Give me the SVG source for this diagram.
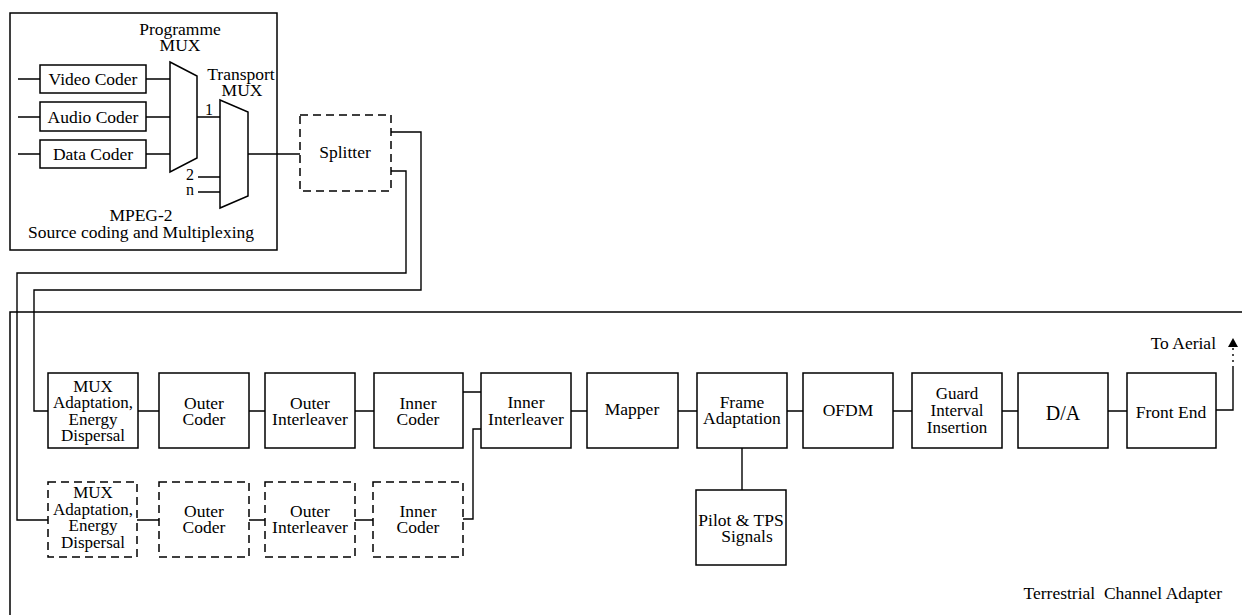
<svg xmlns="http://www.w3.org/2000/svg" width="1242" height="615" viewBox="0 0 1242 615">
<style>
text{font-family:"Liberation Serif","DejaVu Serif",serif;font-size:17.5px;fill:#000;text-anchor:middle}
.box{fill:#fff;stroke:#000;stroke-width:1.5}
.dash{fill:#fff;stroke:#000;stroke-width:1.5;stroke-dasharray:8 5}
.ln{fill:none;stroke:#000;stroke-width:1.4}
.mux{fill:#fff;stroke:#000;stroke-width:1.5}
.sm{font-size:16px}
.tight{font-size:17px}
</style>
<rect width="1242" height="615" fill="#fff"/>

<g id="connectors">
<path class="ln" d="M18,79H40M146,79H170"/>
<path class="ln" d="M18,117H40M146,117H170"/>
<path class="ln" d="M18,154H40M146,154H170"/>
<path class="ln" d="M197,117H220M198,177H220M198,192H220"/>
<path class="ln" d="M248,154H300"/>
<path class="ln" d="M391,132H421V290H34V411H48"/>
<path class="ln" d="M391,171H406V273H17V520H48"/>
<path class="ln" d="M138,411H159M249,411H265M355,411H374M463,392H481M571,411H587M678,411H697M787,411H803M893,411H912M1002,411H1018M1108,411H1127"/>
<path class="ln" d="M137,520H159M249,520H265M355,520H373M463,519H473V429H481"/>
<path class="ln" d="M742,448V490"/>
<path class="ln" d="M1216,410H1233V368"/>
<path class="ln" d="M1233,368V347" stroke-dasharray="2 4"/>
<polygon points="1233,338 1228,347 1238,347" fill="#000"/>
</g>

<g id="mpeg2-frame">
<rect x="10" y="13" width="267" height="237" style="fill:none;stroke:#000;stroke-width:1.5"/>
<text x="141" y="221">MPEG-2</text>
<text x="141" y="238">Source coding and Multiplexing</text>
</g>

<g id="video-coder">
<rect x="40" y="65" width="106" height="28" class="box"/>
<text x="93" y="85">Video Coder</text>
</g>
<g id="audio-coder">
<rect x="40" y="102" width="106" height="29" class="box"/>
<text x="93" y="123">Audio Coder</text>
</g>
<g id="data-coder">
<rect x="40" y="140" width="106" height="28" class="box"/>
<text x="93" y="160">Data Coder</text>
</g>

<g id="programme-mux">
<polygon class="mux" points="170,62 197,76 197,158 170,172"/>
<text x="180" y="35">Programme</text>
<text x="180" y="51">MUX</text>
</g>

<g id="transport-mux">
<polygon class="mux" points="220,100 248,112 248,196 220,208"/>
<text x="241" y="80">Transport</text>
<text x="242" y="96">MUX</text>
<text x="209" y="115" class="sm">1</text>
<text x="190" y="180" class="sm">2</text>
<text x="190" y="195" class="sm">n</text>
</g>

<g id="splitter">
<rect x="300" y="115" width="91" height="76" class="dash"/>
<text x="345" y="158">Splitter</text>
</g>

<g id="terrestrial-frame">
<path class="ln" d="M10,615V312H1242" style="stroke-width:1.5"/>
<text x="1222" y="599" style="text-anchor:end" xml:space="preserve">Terrestrial  Channel Adapter</text>
</g>

<g id="mux-adaptation" class="tight">
<rect x="48" y="373" width="90" height="75" class="box"/>
<text x="93" y="392" class="tight">MUX</text>
<text x="93" y="408" class="tight">Adaptation,</text>
<text x="93" y="425" class="tight">Energy</text>
<text x="93" y="441" class="tight">Dispersal</text>
</g>
<g id="outer-coder">
<rect x="159" y="373" width="90" height="75" class="box"/>
<text x="204" y="409">Outer</text>
<text x="204" y="425">Coder</text>
</g>
<g id="outer-interleaver">
<rect x="265" y="373" width="90" height="75" class="box"/>
<text x="310" y="409">Outer</text>
<text x="310" y="425">Interleaver</text>
</g>
<g id="inner-coder">
<rect x="374" y="373" width="89" height="75" class="box"/>
<text x="418" y="409">Inner</text>
<text x="418" y="425">Coder</text>
</g>
<g id="inner-interleaver">
<rect x="481" y="373" width="90" height="75" class="box"/>
<text x="526" y="408">Inner</text>
<text x="526" y="425">Interleaver</text>
</g>
<g id="mapper">
<rect x="587" y="373" width="91" height="75" class="box"/>
<text x="632" y="415">Mapper</text>
</g>
<g id="frame-adaptation">
<rect x="697" y="373" width="90" height="75" class="box"/>
<text x="742" y="408">Frame</text>
<text x="742" y="424">Adaptation</text>
</g>
<g id="ofdm">
<rect x="803" y="373" width="90" height="75" class="box"/>
<text x="848" y="416">OFDM</text>
</g>
<g id="guard-interval">
<rect x="912" y="373" width="90" height="75" class="box"/>
<text x="957" y="399" class="tight">Guard</text>
<text x="957" y="416" class="tight">Interval</text>
<text x="957" y="433" class="tight">Insertion</text>
</g>
<g id="da">
<rect x="1018" y="373" width="90" height="75" class="box"/>
<text x="1063" y="420" style="font-size:20px">D/A</text>
</g>
<g id="front-end">
<rect x="1127" y="373" width="89" height="75" class="box"/>
<text x="1171" y="418">Front End</text>
</g>
<g id="to-aerial">
<text x="1216" y="349" style="text-anchor:end">To Aerial</text>
</g>
<g id="pilot-tps">
<rect x="696" y="490" width="90" height="75" class="box"/>
<text x="741" y="526">Pilot &amp; TPS</text>
<text x="747" y="542">Signals</text>
</g>

<g id="mux-adaptation-2">
<rect x="48" y="482" width="89" height="75" class="dash"/>
<text x="93" y="498" class="tight">MUX</text>
<text x="93" y="515" class="tight">Adaptation,</text>
<text x="93" y="531" class="tight">Energy</text>
<text x="93" y="548" class="tight">Dispersal</text>
</g>
<g id="outer-coder-2">
<rect x="159" y="482" width="90" height="75" class="dash"/>
<text x="204" y="517">Outer</text>
<text x="204" y="533">Coder</text>
</g>
<g id="outer-interleaver-2">
<rect x="265" y="482" width="90" height="75" class="dash"/>
<text x="310" y="517">Outer</text>
<text x="310" y="533">Interleaver</text>
</g>
<g id="inner-coder-2">
<rect x="373" y="482" width="90" height="75" class="dash"/>
<text x="418" y="517">Inner</text>
<text x="418" y="533">Coder</text>
</g>
</svg>
